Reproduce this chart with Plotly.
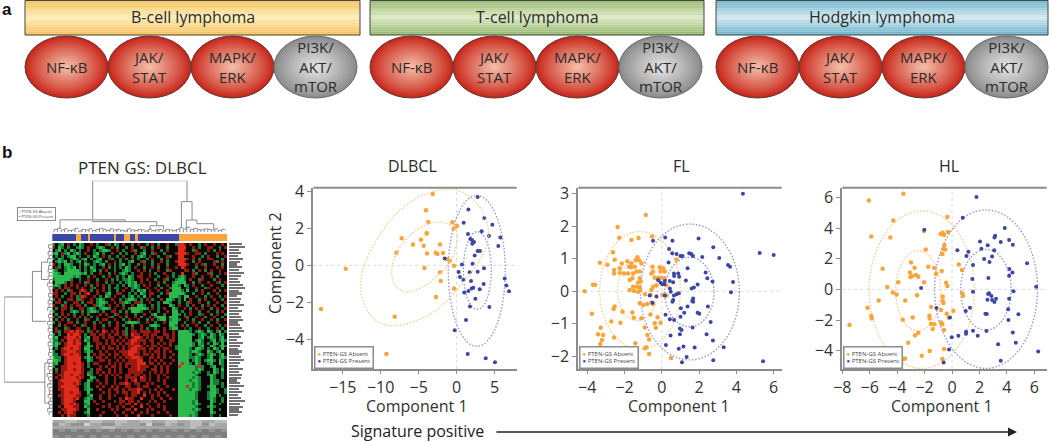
import plotly.graph_objects as go

W, H = 1050, 441
FONT = "Open Sans"
ORANGE, BLUE = "#F9A53C", "#3C46A6"
ORANGE_RING, BLUE_RING = "#F8CC94", "#9598D4"

# ---- panel a
box_labels = ["B-cell lymphoma", "T-cell lymphoma", "Hodgkin lymphoma"]
box_left = [25, 370, 716]
box_right = [360, 704, 1048]
box_edge = ["#F5BE50", "#8FB565", "#62AFC8"]
box_mid = ["#FDEDB8", "#DDE9C4", "#D2E8EF"]
oval_labels = ["NF-κB", "JAK/<br>STAT", "MAPK/<br>ERK", "PI3K/<br>AKT/<br>mTOR"]
oval_edge = ["#C9281C", "#C9281C", "#C9281C", "#8C8C8C"]
oval_mid = ["#F6C4AE", "#F6C4AE", "#F6C4AE", "#E8E8E8"]

# ---- DLBCL scatter
dlbcl_abs_x = [-3.16,-4.04,-3.73,-0.57,-0.4,0.04,-3.95,-3.95,-7.24,-4.7,-5.75,-4.34,-2.19,-7.94,-3.9,-2.76,-2.54,-1.8,-1.23,-0.88,-0.35,-4.25,-2.19,-2.1,-0.35,-2.72,-14.6,-17.85,-8.16,-9.25]
dlbcl_abs_y = [3.88,3.0,2.36,2.34,2.0,2.14,1.76,1.72,1.47,1.39,1.14,1.07,1.14,0.69,0.65,0.69,0.62,0.67,0.33,0.25,-0.02,-0.14,-0.38,-0.85,-1.25,-1.72,-0.18,-2.37,-2.79,-4.82]
dlbcl_pre_x = [2.76,1.54,0.92,3.64,4.69,1.49,3.29,4.25,5.75,5.48,1.8,2.02,2.28,2.06,2.76,3.07,2.37,-1.58,0.7,2.1,3.6,0.26,1.71,2.76,0.44,0.88,1.89,3.55,1.0,1.54,1.97,2.19,3.03,2.46,1.75,4.3,6.32,6.54,6.89,1.23,-0.26,1.45,3.82,5.04]
dlbcl_pre_y = [3.71,3.04,2.32,2.57,2.21,1.7,1.85,1.61,1.52,1.05,1.43,1.38,1.27,1.18,0.78,0.78,0.53,0.38,0.05,0.09,-0.16,-0.36,-0.38,-0.34,-0.63,-0.8,-0.85,-1.01,-1.47,-1.39,-1.25,-1.21,-1.3,-1.81,-2.23,-2.26,-0.71,-1.09,-1.41,-2.97,-3.53,-4.82,-5.04,-5.27]
dlbcl_ring_outer_x = [-12.63,-12.06,-10.53,-8.33,-5.7,-2.63,0,2.63,4.04,4.04,2.63,0,-2.63,-5.7,-8.77,-10.96,-12.28,-12.63]
dlbcl_ring_outer_y = [-0.98,0.11,1.38,2.64,3.55,4.06,4.09,3.37,2.28,1.2,0.02,-1.34,-2.43,-3.06,-3.28,-2.88,-1.97,-0.98]
dlbcl_ring_inner_x = [-8.55,-8.11,-6.58,-4.39,-2.41,-0.88,0,-0.09,-0.88,-2.63,-4.82,-6.8,-8.11,-8.55]
dlbcl_ring_inner_y = [-0.43,0.47,1.47,2.14,2.36,2.2,1.83,1.01,0.2,-0.62,-1.25,-1.43,-1.07,-0.43]

# ---- FL scatter
fl_abs_x = [-.86,-2.37,-2.29,-1.63,-1.25,-.52,-2.62,-2.53,-3.32,-2.92,-2.15,-1.85,-1.63,-1.4,-1.31,-1.22,-1.09,-2.56,-2.56,-2.26,-2.26,-2.03,-1.76,-1.63,-1.45,-1.36,-1.54,-1.18,-1.81,-.5,-.47,-.56,-.11,-.02,.07,-.07,.16,.79,-1.58,-1.72,-1.18,-.38,-.2,-.02,.16,-3.69,-3.58,-4.14,-1.27,-1.13,-1.54,-1.33,-1.18,-.47,-.29,.25,-1.72,-1.49,-1.27,-1.15,-.56,-.9,-.61,.04,.25,-1.18,-1.0,-.79,-.56,-.47,-2.53,-2.59,-3.75,-2.11,-1.58,-1.5,-1.09,-.61,-.23,-2.71,-2.22,-.38,-.07,-.32,-3.28,-.91,-3.42,-3.15,-2.56,-.77,-.68,-3.21,-3.3,-1.42,-.91,-.82,-.68,.5]
fl_abs_y = [2.35,1.98,1.65,1.58,1.64,1.69,1.2,.97,.88,.82,.86,.93,.86,.96,1.05,.96,.86,.66,.55,.71,.57,.55,.76,.74,.76,.61,.55,.61,.55,.76,.61,.55,.74,.68,.71,.61,.61,.98,.4,.35,.4,.42,.42,.42,.4,.2,.2,0,.27,.3,.14,.14,.12,.14,.19,.19,.04,.01,-.01,.04,.04,-.09,-.11,-.11,-.13,-.37,-.42,-.39,-.35,-.39,-.47,-.54,-.69,-.63,-.65,-.81,-.83,-.71,-.8,-.93,-.97,-.98,-.97,-1.12,-1.12,-1.11,-1.32,-1.34,-1.42,-1.34,-1.48,-1.5,-1.62,-1.6,-1.75,-1.72,-1.93,-2.05]
fl_pre_x = [4.35,-.47,.18,.57,1.97,2.76,.39,.56,.79,1.0,1.11,1.47,1.58,1.67,2.17,3.08,5.25,6.0,3.55,3.66,.36,1.38,2.35,.65,.88,.66,.93,2.44,1.29,2.72,3.82,-.2,-.07,.16,.43,.61,.02,.13,1.92,1.72,1.6,.43,.48,3.71,-.65,-.29,.16,.91,.79,.65,1.68,1.68,1.63,.61,.57,-.5,2.47,1.38,1.02,1.92,2.01,.2,1.2,1.0,2.62,.43,.66,.97,1.06,1.65,2.4,.47,.97,2.74,.22,.91,1.16,1.76,3.32,1.33,1.08,2.76,5.43]
fl_pre_y = [3.0,1.56,1.66,1.56,1.63,1.36,1.3,1.17,1.15,1.09,1.09,1.17,1.15,1.09,1.06,1.03,1.18,1.12,.81,.76,.89,.71,.58,.55,.55,.47,.45,.4,.33,.3,.29,.35,.27,.32,.32,.28,.22,.22,.21,.12,.09,.09,-.01,-.03,-.13,-.16,-.13,-.06,-.09,-.13,-.22,-.32,-.3,-.27,-.32,-.35,-.47,-.47,-.52,-.66,-.69,-.72,-.66,-.78,-.94,-.86,-.88,-1.14,-1.19,-1.11,-1.32,-1.36,-1.32,-1.51,-1.65,-1.77,-1.7,-1.73,-1.72,-2.02,-2.18,-2.12,-2.15]

# ---- HL scatter
hl_abs_x = [-3.55,-6.06,-5.89,-4.28,-4.5,-.34,-2.04,-.29,-.68,-.83,-.58,-1.92,-.56,-.63,-.49,-.71,-2.99,.49,-5.06,-2.73,-1.73,-1.31,-3.07,-.75,.73,-2.92,-2.63,-2.46,-3.04,-1.17,-3.92,-2.04,-.44,-.34,-4.72,-4.31,-4.04,-2.55,.73,.8,-.68,-5.35,-3.41,-.68,-.63,-1.53,-6.16,.1,-.8,-.39,-1.65,-5.89,-5.86,-2.87,-.24,-1.63,-3.6,-1.53,-1.29,-.8,-.71,-1.41,-.58,-7.47,-2.46,-2.7,-3.19,-1.63,-2.21,-.58,-3.55,-3.43,-.71]
hl_abs_y = [6.25,5.8,3.46,4.49,3.38,4.73,3.81,3.75,3.7,3.62,3.55,2.61,2.9,2.64,2.61,2.31,1.76,1.63,1.35,1.42,1.48,1.39,1.11,1.2,1.26,.87,.94,.83,.81,1.0,.46,.46,.44,.22,.15,-.2,-.33,-.39,-.26,-.41,-.46,-.72,-.72,-.74,-.89,-1.15,-1.2,-1.39,-1.35,-1.59,-1.72,-1.72,-1.9,-1.83,-1.85,-1.9,-1.98,-2.24,-2.27,-2.16,-2.27,-2.59,-2.66,-2.33,-2.83,-3.0,-3.49,-4.03,-4.34,-3.9,-4.55,-4.51,-4.55]
hl_pre_x = [1.78,.78,-2.02,3.84,3.14,3.09,3.55,4.16,2.04,4.43,2.6,2.14,.39,3.07,1.19,1.05,2.92,2.34,2.73,1.53,5.47,4.18,4.4,4.16,2.65,1.48,6.13,-2.26,1.53,4.48,2.7,2.63,2.87,3.21,2.58,2.92,3.09,4.16,4.09,-1.14,1.31,1.0,4.84,2.43,2.53,-.15,4.11,1.53,1.02,1.02,.46,-.02,1.87,2.51,4.43,4.65,3.36,-.22,6.28,3.55,-.61]
hl_pre_y = [6.03,4.68,3.9,4.01,3.51,3.38,3.09,3.22,3.12,2.92,2.88,2.66,2.55,2.55,2.46,2.18,2.14,1.98,1.79,1.59,1.7,1.33,1.11,.89,.74,.68,.17,.09,-.15,-.13,-.26,-.3,-.44,-.61,-.68,-.7,-.83,-.61,-1.29,-1.22,-1.2,-1.42,-1.63,-1.59,-1.61,-1.83,-2.0,-2.7,-2.77,-2.9,-3.03,-3.12,-3.03,-2.72,-2.81,-3.49,-3.59,-3.92,-4.05,-4.66,-4.77]

# rings drawn as axis-aligned ellipses: [x_min, x_max, y_min, y_max]
dlbcl_blue_rings = [[-1.1, 6.4, -4.4, 3.8], [0.88, 4.56, -2.39, 1.83]]
fl_rings_abs = [[-3.33, 1.0, -1.78, 1.84], [-2.38, -0.25, -0.9, 0.96]]
fl_rings_pre = [[-1.15, 4.16, -2.11, 2.07], [0.16, 2.8, -1.09, 1.05]]
hl_rings_abs = [[-6.03, 1.63, -5.16, 5.12], [-4.11, -0.83, -2.7, 2.53]]
hl_rings_pre = [[-1.27, 6.23, -5.16, 5.19], [0.63, 4.31, -2.66, 2.61]]

# ---- heat map, read by eye: R bright red, r dark red, k black, g dark green, G bright green
hm_rows = [
"gkgGkrkgkGgkkrkgkkrgkGgkrkkgkrkkgkrkgkkrkkgRRrkrkkgkrkkrkkrk",
"rkGgkgkkgGgkrkkgGgkkrkgkkgkrkkgrkkgkrkkgkkkRRRkkrkgkkrrkkgkr",
"kgGkgkGgkgkkrkgkgGGgkkrkgkkrgkkgkkrkkgkrkkkRRrkkgrkkkrkgkrkk",
"gGkrgGkgGgkrkkgGkgkkrkkgkgkkrkgGkkgrkkgkkkrRRRrkkrrkgkkkrkrk",
"kgkgkgGGkgkkgkGgkrkgkkgkrkkgkgGgkrkkgkkrgkkRRkkkrkkgkrkkgkkr",
"gkGgkkgGgkgGkgkgGkkrgkkgkgkrkgkkgkrkkgkrkkkRRRrkrkgkkrrkkkgk",
"kgGgGkgkgGkgkkgGgkgkkrkgkkgGkkrgkkgkkrkgkkrRRrkkgkrkkkkrgkrk",
"rkgkGGgkkgkGgkgkgGkrkgkgGkgkkgkrkkgkrkkgkkkRRRrkkrkrgkkrkkgk",
"krgkgGgGkgkgkGgkkrkgkgkgkGgkrkkgkkrkgkkrkkrkRrkkkgkkrkkkrkrk",
"GgkkgGGGGgkgkgGkgkrkkgkkgGgkkrkrkgkkrkkgrkkkkrrkgkrkgkrkkrkk",
"GGgkGGGGGGgGkgkkrkkgkrkgGgkgkkrkkrkgkkrkkgkkRkkkrgkkkrgkkrkr",
"GGGGGGGgGgkkgkrkkgkrkkgkgkGgkrrkkrkkgkkrkgkgGgkkrkkrkkrkgkkk",
"gGGGGGgkkgkkrkkgkkrkgkgkggGgkkrkrkkgkkrgkkgGGgkrkkgrkkkgkrkk",
"kGGGgkrkkrkgrkkrkkgkrkkgkgGgGkrkkrkkrkgkkgGGGGkkgkrkkrkkrgkr",
"gGgkrkrkrkkrkgkrkrkgkkgkgkGgGgkrkrkkgkkrkGGgkGgkrkkgkkrkkkgk",
"rkgkrrkkrkrkkrgkkrkgkggkkrkgGgkkrkkrkgkkgGGGkkgkkrkkgrkkrkkk",
"krkrkgrkkrRrkgkrkrkgkkgkrkkgkGgGkrkkrkkrkGGGgkGkkgkrkkkrkgkr",
"rrkkgkrrkgkrRkkrkkgGkkrrkkgkgkGgkrrkkgkrGGGGGgkkgkkrkgkkrkkk",
"krkgkkrkgrRrkkrkgkGgkrkkgkgGkgkGkrkkgkkkGGGgkGGkkrkkgkrkkgkr",
"gkrkkrrkggrkkrkgGgkkrkkgkgGGgkgkrkgkkrkGGgkgkGkrkkgkrkkrkkgk",
"krrkgkkrrkgkrrkgGGgkkrkrgGgkrrgkkrkkgkGGgkkgkkgrkkrkkgkkrkkr",
"rkkgrkrkrrkgkkrgGgkrkkrkgkkrkGGgkkgkgkkkGgkrkkgkrkkgkrkrkkgk",
"kgkrrkgkkrrkgGgkgGGgkrkkrkgGGGGGgkrkgkrkkGgkkrkgkrkrkkgkrkkr",
"gkkrkkgGgkgkgGGgkgkkrrkgkgkGGGgkkrkkgkkrkGGkgkkrkkgkkrkkgkrk",
"kgkrkrkgkkrkgkkkrkrkkgrkkrkkgkkrkkgGkkgkkGGgkgkrkkgrkkgkrkkg",
"rkgkrkkrkgkrkgkrkkkrgkkrkgkkrkgkkrkgGGGkGGGkkrgkkrkkgkkrkkgk",
"kgkrkgkkrkkgrkkgkrrkkrkkgkrkkrkkgkrkgGGkgGGgkkrkgkkrkkrkgkkr",
"gkrkkrrkgkkrkkgkrkkgkkrkkgGGGgkkrkkgkkrkGGGkkgkkrkgkkgkkrkkk",
"kkgkrkkrkkgrkkrkkgkrkkrkgkkgkkrkkgGGgkkkGGgkrkgkkrkkgkrkkgkr",
"krkkgrkkrrkkgkrkkrkkkrrkkgkrkkrkgkkgkkrkgGGkkrkgkkrkkgkkrkgk",
"krgkrrRrRrrkgrkrkRrkrkrkrgkrrkrrrrkrrkrkkrkGGGGgkgGgkGgkgGkg",
"gkgkkRrRRrkgkrrkrrkrkrrkrgkRrrkrrkrrkkrrkrkGGGGGgkgGgkGgkGgk",
"gGkkrRRRrRkgGkrrkrkrrkkrkrkrRRrkrkrkrrkrkrkGGGGGkkgGkgGgkgGk",
"ggkrkRRrRrkGgkrrkkrkrkrkrkrRRrrrkrrkkrkkrrkGGGGGkgGgkkgGkgGg",
"gGgkrRRrRRkkGkkrrkrkrrkrkrrRrrkrkkrkrkrkrkkGGGGGgkGgkgkGgkGk",
"gGkkrRRRRrkgGgkrkrkrkkrkrkrrRRrkrkrrkrkkrkgGGGGGgkgGkkGgkgGg",
"kgkrRRrRRrkGGkkrkrkrrkrkrkrRRrrrkrrkrkrrkkgGGGGgkGGgkgkGgkGk",
"gkkrrRRRrrkgGgkkrkrkkrkrrrRRRrkrkrkrrkrkrkkGGGGgGGgkkGgkgGkk",
"ggkrRRrRRrkkGkrkrrkrkrrkrrRRrrkrrkrkrkrkkrkGGGGgkgGgkgGgkgGk",
"GggkrRRRRRkgGgkrrkrkkrkrkrrRRRrkkrrkrkrkrkkGGGGggGgkkgGkkgGg",
"GGgkrRRRRRkkGgkkrrkrkkrkrkrrrRRkkrkrkrkkkrkGGGGkgGgkgGGgkGgk",
"gGkkrRRrRRrkgkrrkkkrkrkrkrrrrRRRkrrkrkrkrkkGRGGgkGgkkgGkkGgk",
"gkkrrRRRRRrkgkkkrkrkrrkrkrkrrRrrrkkrkrkrkkkRGGGGGgRgkkgGkkgk",
"kgkrrRRrRRrkkgkrrkkrkrkrkkrrrRrrkkrrkrkrkkkGGGGGGgGgkkkGgkGk",
"krkrRRRRRRrkggkrkrkrkrkrkkrrrrrkkrkrkrkrkkkGGGGGgGgkkgkGgkgk",
"kkrrRRrRRrrkGgkkrkrkrkrkkrrkrrkrkrkkrkrkkkkGGGGGGgkkkgGgkkgk",
"krkrRRRRrRrkkGgkkkrkkrkrkrrrrkRrkrkkrkkrkkkGGGGGgGgkkkGgkkgk",
"kkrRRRRRRrkkGgkrkkrkkrkkkrkrRkrrkrkkrkrkkkkGGGGgGGgkkkGggkkk",
"kkrrRRRrRrkgGkkkrkrkkrkrrRrkrrkkrkrkkkrkkkkGGGGGgGgkkkGggkgk",
"kkrRRRRRrkkgGkkrkrkkrkrkkrrkkrkrrkkkrkkrkkkGGGRGgGgkkgGGkkgk",
"kkrrRRRRRkkgGgkkrkkrkrrkrkrrrRrkkrkrkrkkkrkGGGGgGGgkkkGGgkkg",
"kkkrRRrRRrkkGkkkkrkrkkrkrrkrrRkrkrkkrkrkkkkGGGGGGgkkkgGGgkkg",
"kkrrRRRRrrkkgGkkrkkrkrkkkrkrrkkRkkrkrkkrkkkGGGGGGgkkkgGGkgkk",
"kkkrRRRrRkkgGgkkrkkrkkkrkRrrkkRkkkrkkrkkrkkGGGGGGgkkkgGgkkgk",
"kkkrRRRrkkkGGkrkkrkkkrkrrkrrkrkkkrkrkkrkkkkGGGGGgGkkkkGgkkgk",
"kkkrRRrRrkkgGkkrkkkrkkkrkrrkRkrkrkkkrkkkkkkGGGGGgGgkkkGkkgkk",
"kkrkRRRrrkkGgkkkkrkrkkrkrkkrkkRkkrkkrkrkkkkGGGGGGgkkkgGgkkkk",
"kkkrrRRRrkkkGkkrkkkkrkrkkrrkRkkkrkrkkkrkkkkGGGGGgGgkkkGkkgkk",
"kkrkrRRrkkkgGkkkkrkkkrkkrkkrkkrkrkkkrkkrkkkGGGGGGgkkkkGgkkkk",
"kkkrkRrrkkkkgkkkrkkkkkrkkrkkkRkkkkrkkkkkrkkGGGGgGgkkkkgkkgkk",
]
hm_code = {"R": 2, "r": 1, "k": 0, "g": -1, "G": -2}
hm_cols = 60

# sample-group strip above the heat map
group_widths = [72, 14, 20, 8, 71, 7, 22, 20, 15, 7, 122, 145]
group_names = ["Present", "Absent", "Present", "Absent", "Present", "Absent", "Present", "Absent", "Present", "Absent", "Present", "Absent"]

# dendrograms (leaf position, merge height), None separates branches
top_tree_pos = [23.1,23.1,77.1,77.1,None,73.9,73.9,80,80,None,4.4,4.4,41.7,41.7,None,22.6,22.6,59.8,59.8,None,56,56,63.7,63.7,None,76.7,76.7,82.8,82.8,None,82.8,82.8,92.4,92.4]
top_tree_h = [24.4,100,100,59.6,None,10,59.6,59.6,24,None,8,24.4,24.4,21,None,21,21,21,13,None,6,13,13,6,None,6,24,24,17,None,17,17,17,6]
top_leaf_pos = [1,3,5,7,9,11,13,15,17,19,21,23,25,27,29,31,33,35,37,39,41,43,45,47,49,51,53,55,57,59,61,63,65,67,69,71,73,75,77,79,81,83,85,87,89,91,93,95,97]
top_leaf_h = [6,8,5,7,4,5,8,3,6,5,7,4,6,8,6,4,7,5,6,4,3,7,5,4,6,5,3,6,4,5,6,3,6,5,4,6,9,7,10,6,8,6,5,7,6,5,7,4,6]
left_tree_h = [41,100,100,15,None,22,41,41,12,None,8,22,22,8,None,5,15,15,5]
left_tree_pos = [31,31,80,80,None,16.3,16.3,45,45,None,11,11,21,21,None,69,69,92,92]
left_leaf_pos = [1,3,5,7,9,11,13,15,17,19,21,23,25,27,29,31,33,35,37,39,41,43,45,47,49,51,53,55,57,59,61,63,65,67,69,71,73,75,77,79,81,83,85,87,89,91,93,95,97]
left_leaf_h = [7,5,8,6,9,5,7,8,6,8,5,9,6,4,7,5,8,6,9,4,7,5,9,6,8,5,7,4,8,6,5,7,4,9,6,8,5,10,7,4,9,6,5,8,4,7,5,9,6]

# gene-label column and the sample-label band
gene_label_len = [13,16,10,12,9,14,11,8,13,10,15,12,9,11,14,16,10,13,8,12,11,15,9,13,10,12,14,9,11,13,15,10,12,8,14,11,9,13,10,12,15,11,9,14,10,13,12,8,11,15,10,13,9,12,16,11,14,10,13,9]
band_rows = [
"3344334433443344334433443344",
"2432253322433325224323442433",
"3333333344333333333333433333",
"1212121212121212121212121212",
"1111111111111111111111111111",
"2121212121212121212121212121",
]

panel_titles = ["DLBCL", "FL", "HL"]
heat_title = "PTEN GS: DLBCL"
x_title, y_title = "Component 1", "Component 2"
legend_text_abs, legend_text_pre = "PTEN-GS Absent", "PTEN-GS Present"
arrow_text = "Signature positive"

def px(v): return v / W
def py(v): return 1 - v / H
def mix(a, b, t):
    ca = [int(a[i:i+2], 16) for i in (1, 3, 5)]
    cb = [int(b[i:i+2], 16) for i in (1, 3, 5)]
    return "#%02x%02x%02x" % tuple(round(p + (q - p) * t) for p, q in zip(ca, cb))
def dom_x(a, b): return [a / W, b / W]
def dom_y(top, bottom): return [1 - bottom / H, 1 - top / H]

shapes, annots, traces = [], [], []

def note(x, y, text, size=16, color="#2b2b2b", family=FONT, **kw):
    d = dict(x=px(x), y=py(y), xref="paper", yref="paper", text=text, showarrow=False,
             xanchor="center", yanchor="middle", font=dict(family=family, size=size, color=color))
    d.update(kw)
    annots.append(d)

# ---------- panel a
STRIPS, RINGS = 20, 16
for b, label in enumerate(box_labels):
    L, R = box_left[b], box_right[b]
    for s in range(STRIPS):
        t0, t1 = s / STRIPS, (s + 1) / STRIPS
        f = 1 - abs(t0 + 0.5 / STRIPS - 0.5) * 2
        c = mix(box_edge[b], box_mid[b], f)
        shapes.append(dict(type="rect", xref="paper", yref="paper", x0=px(L), x1=px(R),
                           y0=py(0 + 35 * t0), y1=py(0 + 35 * t1), fillcolor=c, line=dict(width=0), layer="above"))
    shapes.append(dict(type="rect", xref="paper", yref="paper", x0=px(L), x1=px(R), y0=py(0.5), y1=py(35),
                       line=dict(color="#444444", width=1), layer="above"))
    note((L + R) / 2, 17, label)
    for o, olabel in enumerate(oval_labels):
        ox0 = L + 83.0 * o
        ox1 = ox0 + 83.0
        cx, cy = (ox0 + ox1) / 2, 67
        rx, ry = 41.5, 31
        shapes.append(dict(type="circle", xref="paper", yref="paper", x0=px(cx - rx), x1=px(cx + rx),
                           y0=py(cy - ry), y1=py(cy + ry), fillcolor=oval_edge[o],
                           line=dict(color="#5a3a36" if o < 3 else "#6a6a6a", width=1), layer="above"))
        for k in range(1, RINGS):
            t = k / RINGS
            s_ = 1 - t
            shapes.append(dict(type="circle", xref="paper", yref="paper", x0=px(cx - rx * s_), x1=px(cx + rx * s_),
                               y0=py(cy - ry * s_), y1=py(cy + ry * s_), fillcolor=mix(oval_edge[o], oval_mid[o], t ** 0.9),
                               line=dict(width=0), layer="above"))
        note(cx, cy, olabel, size=15, align="center")

note(0, 9, "<b>a</b>", size=17, color="#111", family="Liberation Sans", xanchor="left")
note(0, 153, "<b>b</b>", size=17, color="#111", family="Liberation Sans", xanchor="left")

# ---------- scatter panels
TOP, BOTTOM = 187.7, 369
panels = [
    dict(name=panel_titles[0], ax="", L=313.3, R=516.7, xr=[-18.87, 7.9], yr=[-5.63, 4.22], xt=[-15, -10, -5, 0, 5], yt=[-4, -2, 0, 2, 4],
         ax_=dlbcl_abs_x, ay_=dlbcl_abs_y, bx_=dlbcl_pre_x, by_=dlbcl_pre_y, ra=[], rp=dlbcl_blue_rings, cx=412, tx=417),
    dict(name=panel_titles[1], ax="2", L=578.3, R=781.7, xr=[-4.48, 6.43], yr=[-2.39, 3.19], xt=[-4, -2, 0, 2, 4, 6], yt=[-2, -1, 0, 1, 2, 3],
         ax_=fl_abs_x, ay_=fl_abs_y, bx_=fl_pre_x, by_=fl_pre_y, ra=fl_rings_abs, rp=fl_rings_pre, cx=681, tx=679),
    dict(name=panel_titles[2], ax="3", L=842.3, R=1046.7, xr=[-8.0, 6.9], yr=[-5.2, 6.64], xt=[-8, -6, -4, -2, 0, 2, 4, 6], yt=[-4, -2, 0, 2, 4, 6],
         ax_=hl_abs_x, ay_=hl_abs_y, bx_=hl_pre_x, by_=hl_pre_y, ra=hl_rings_abs, rp=hl_rings_pre, cx=949, tx=942),
]
layout_axes = {}
GRAY = "#8c8c8c"
RING_DASH = "1.5px,1.8px"
for i, p in enumerate(panels):
    s = p["ax"]
    xa, ya = "x" + s, "y" + s
    layout_axes["xaxis" + s] = dict(domain=dom_x(p["L"], p["R"]), range=p["xr"], anchor=ya, tickvals=p["xt"], ticks="outside", ticklen=3,
                                    tickcolor=GRAY, showline=True, linecolor=GRAY, linewidth=2, showgrid=False, zeroline=False,
                                    tickfont=dict(family=FONT, size=16, color="#333"))
    layout_axes["yaxis" + s] = dict(domain=dom_y(TOP, BOTTOM), range=p["yr"], anchor=xa, tickvals=p["yt"], ticks="outside", ticklen=4,
                                    tickcolor=GRAY, showline=True, linecolor=GRAY, linewidth=2, showgrid=False, zeroline=False,
                                    tickfont=dict(family=FONT, size=16, color="#333"))
    shapes.append(dict(type="line", xref=xa + " domain", yref=ya + " domain", x0=0, x1=1, y0=1, y1=1, line=dict(color=GRAY, width=2), layer="above"))
    shapes.append(dict(type="line", xref=xa + " domain", yref=ya, x0=0, x1=1, y0=0, y1=0, line=dict(color="#d9d9d9", width=1, dash="dot"), layer="below"))
    shapes.append(dict(type="line", xref=xa, yref=ya + " domain", x0=0, x1=0, y0=0, y1=1, line=dict(color="#d9d9d9", width=1, dash="dot"), layer="below"))
    for rings, col in ((p["ra"], ORANGE_RING), (p["rp"], BLUE_RING)):
        for r in rings:
            shapes.append(dict(type="circle", xref=xa, yref=ya, x0=r[0], x1=r[1], y0=r[2], y1=r[3],
                               line=dict(color=col, width=1.4, dash=RING_DASH), layer="below"))
    traces.append(go.Scatter(x=p["ax_"], y=p["ay_"], xaxis=xa, yaxis=ya, mode="markers", name=legend_text_abs, showlegend=False,
                             marker=dict(color=ORANGE, size=4.5, symbol="circle", line=dict(width=0))))
    traces.append(go.Scatter(x=p["bx_"], y=p["by_"], xaxis=xa, yaxis=ya, mode="markers", name=legend_text_pre, showlegend=False,
                             marker=dict(color=BLUE, size=4, symbol="circle", line=dict(width=0))))
    note(p["cx"], 166, p["name"])
    note(p["tx"], 406, x_title, color="#333")
    note(p["L"] + 0.5, 369, "<span style='color:%s'>●</span> %s<br><span style='color:%s'>●</span> %s" % (ORANGE, legend_text_abs, BLUE, legend_text_pre),
         size=6, color="#444", xanchor="left", yanchor="bottom", align="left", bgcolor="white", bordercolor=GRAY, borderwidth=1.5, borderpad=2)
note(275, 263, y_title, color="#333", textangle=-90)

# DLBCL tilted rings follow the outline
for rx_, ry_ in ((dlbcl_ring_outer_x, dlbcl_ring_outer_y), (dlbcl_ring_inner_x, dlbcl_ring_inner_y)):
    traces.append(go.Scatter(x=rx_, y=ry_, xaxis="x", yaxis="y", mode="lines", showlegend=False, hoverinfo="skip",
                             line=dict(color=ORANGE_RING, width=1.4, dash=RING_DASH, shape="spline", smoothing=1)))

# ---------- heat map block
def hidden(dom, rng=None, **kw):
    d = dict(domain=dom, showticklabels=False, ticks="", showgrid=False, zeroline=False, showline=False)
    if rng is not None:
        d["range"] = rng
    d.update(kw)
    return d

HM_L, HM_R, HM_T, HM_B = 52.3, 227, 243, 417
z = [[hm_code[ch] for ch in row.ljust(hm_cols, "k")[:hm_cols]] for row in hm_rows]
traces.append(go.Heatmap(z=z, xaxis="x4", yaxis="y4", zmin=-2, zmax=2, showscale=False, hoverinfo="skip",
                         colorscale=[[0, "#2DB84B"], [0.25, "#12813A"], [0.5, "#080504"], [0.75, "#96190F"], [1, "#E02A1C"]]))
layout_axes["xaxis4"] = hidden(dom_x(HM_L, HM_R), anchor="y4")
layout_axes["yaxis4"] = hidden(dom_y(HM_T, HM_B), anchor="x4", autorange="reversed")

for w, g in zip(group_widths, group_names):
    traces.append(go.Bar(x=[w], y=["s"], orientation="h", xaxis="x5", yaxis="y5", showlegend=False, hoverinfo="skip",
                         marker=dict(color=BLUE if g == "Present" else ORANGE, line=dict(width=0))))
layout_axes["xaxis5"] = hidden(dom_x(HM_L, HM_R), [0, sum(group_widths)], anchor="y5")
layout_axes["yaxis5"] = hidden(dom_y(233, 241.5), anchor="x5", type="category")

tree_line = dict(color="#8a8a8a", width=1)
tx, ty = list(top_tree_pos) + [None], list(top_tree_h) + [None]
for a, b in zip(top_leaf_pos, top_leaf_h):
    tx += [a, a, a + 2, None]
    ty += [0, b, b, None]
traces.append(go.Scatter(x=tx, y=ty, xaxis="x6", yaxis="y6", mode="lines", line=tree_line, showlegend=False, hoverinfo="skip"))
layout_axes["xaxis6"] = hidden(dom_x(HM_L, HM_R), [0, 100], anchor="y6")
layout_axes["yaxis6"] = hidden(dom_y(180.7, 232.5), [0, 100], anchor="x6")

lx, ly = list(left_tree_h) + [None], list(left_tree_pos) + [None]
for a, b in zip(left_leaf_pos, left_leaf_h):
    lx += [0, b, b, None]
    ly += [a, a, a + 2, None]
traces.append(go.Scatter(x=lx, y=ly, xaxis="x7", yaxis="y7", mode="lines", line=tree_line, showlegend=False, hoverinfo="skip"))
layout_axes["xaxis7"] = hidden(dom_x(4.3, 52), [100, 0], anchor="y7")
layout_axes["yaxis7"] = hidden(dom_y(HM_T, HM_B), [100, 0], anchor="x7")

traces.append(go.Bar(x=gene_label_len, y=list(range(len(gene_label_len))), orientation="h", xaxis="x8", yaxis="y8",
                     marker=dict(color="#707070", line=dict(width=0)), width=0.55, showlegend=False, hoverinfo="skip"))
layout_axes["xaxis8"] = hidden(dom_x(228.5, 246), [0, 17.5], anchor="y8")
layout_axes["yaxis8"] = hidden(dom_y(HM_T, HM_B), [len(gene_label_len) - 0.5, -0.5], anchor="x8")

traces.append(go.Heatmap(z=[[int(c) for c in r] for r in band_rows], xaxis="x9", yaxis="y9", zmin=1, zmax=5, showscale=False, hoverinfo="skip",
                         colorscale=[[0, "#7e7e7e"], [1, "#d0d0d0"]]))
layout_axes["xaxis9"] = hidden(dom_x(HM_L, HM_R), anchor="y9")
layout_axes["yaxis9"] = hidden(dom_y(420, 438), anchor="x9", autorange="reversed")

note(142, 167.5, heat_title, size=17)
note(17, 214, "<span style='color:%s'>▪</span> %s<br><span style='color:%s'>▪</span> %s" % (ORANGE, legend_text_abs, BLUE, legend_text_pre),
     size=4, color="#444", xanchor="left", align="left", bgcolor="white", bordercolor=GRAY, borderwidth=1, borderpad=1)

# ---------- arrow
note(349, 431, arrow_text, size=16, color="#222", xanchor="left")
annots.append(dict(x=px(1017), y=py(432), xref="paper", yref="paper", ax=-522, ay=0, text="", showarrow=True,
                   arrowhead=2, arrowsize=1.2, arrowwidth=1.5, arrowcolor="#222"))

fig = go.Figure(traces)
fig.update_layout(width=W, height=H, margin=dict(l=0, r=0, t=0, b=0, autoexpand=False), paper_bgcolor="white", plot_bgcolor="white",
                  barmode="stack", showlegend=False, shapes=shapes, annotations=annots, **layout_axes)
fig.write_html("out.html", config={"displayModeBar": False})
# the page's default body margin would push the 1050x441 figure off the window
with open("out.html", encoding="utf-8") as fh:
    page = fh.read()
with open("out.html", "w", encoding="utf-8") as fh:
    fh.write(page.replace("<body>", '<body style="margin:0;overflow:hidden">', 1))
